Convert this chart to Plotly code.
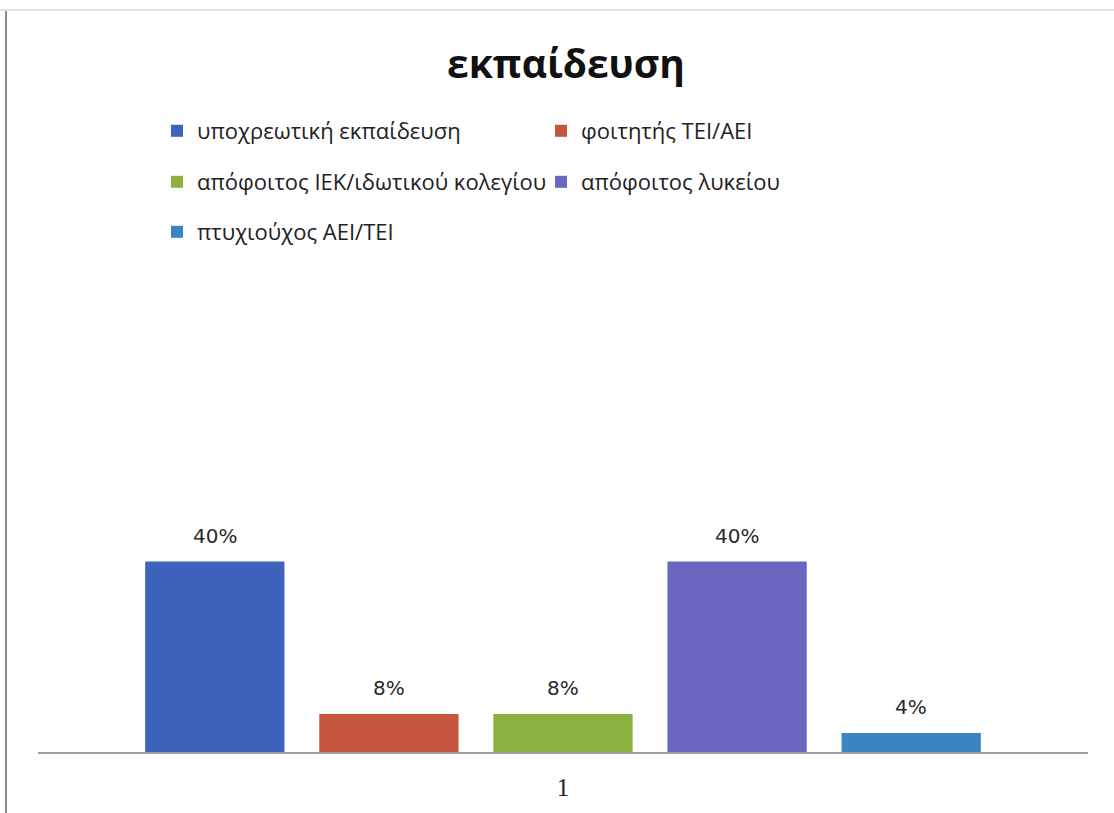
import plotly.graph_objects as go

# Education level shares (single survey group "1")
category = ["1"]
series_names = [
    "υποχρεωτική εκπαίδευση",
    "φοιτητής ΤΕΙ/ΑΕΙ",
    "απόφοιτος ΙΕΚ/ιδωτικού κολεγίου",
    "απόφοιτος λυκείου",
    "πτυχιούχος ΑΕΙ/ΤΕΙ",
]
series_values = [0.40, 0.08, 0.08, 0.40, 0.04]
series_colors = ["#3D63BC", "#C5553F", "#8DB13E", "#6B66BF", "#3A84C2"]
legend_rows = ["legend", "legend", "legend2", "legend2", "legend3"]

W, H = 1114, 813
L, R, T, B = 38, 26, 514, 61
plot_h = H - T - B
BARGAP, GROUPGAP = 0.171, 0.2

fig = go.Figure()
for name, val, col, lg in zip(series_names, series_values, series_colors, legend_rows):
    fig.add_trace(go.Bar(
        x=category, y=[val], name=name,
        marker=dict(color=col, line=dict(width=0)),
        legend=lg,
    ))

# value labels above each bar, centred on the bar's slot within the group
n = len(series_values)
slot = (1 - BARGAP) / n
annotations = []
for i, val in enumerate(series_values):
    annotations.append(dict(
        x=-(1 - BARGAP) / 2 + slot * (i + 0.5), y=val,
        xref="x", yref="y", text=f"{val:.0%}", showarrow=False,
        yanchor="middle", yshift=26,
        font=dict(family="DejaVu Sans", size=20, color="#2a2a2a"),
    ))


def row_y(px_top):
    return (H - B - px_top) / plot_h


legend_common = dict(
    orientation="h", x=(157 - L) / (W - L - R), xanchor="left", yanchor="top",
    font=dict(family="Open Sans", size=22, color="#222222"),
    bgcolor="rgba(0,0,0,0)", entrywidth=339, itemwidth=30,
    traceorder="normal",
)

fig.update_layout(
    width=W, height=H,
    margin=dict(l=L, r=R, t=T, b=B),
    paper_bgcolor="white", plot_bgcolor="white",
    title=dict(
        text="<b>εκπαίδευση</b>", x=0.508, xanchor="center",
        y=1 - 64 / H, yanchor="middle",
        font=dict(family="Open Sans", size=39, color="#111111"),
    ),
    barmode="group", bargap=BARGAP, bargroupgap=GROUPGAP,
    showlegend=True,
    legend=dict(legend_common, y=row_y(110)),
    legend2=dict(legend_common, y=row_y(161)),
    legend3=dict(legend_common, y=row_y(211)),
    annotations=annotations,
    xaxis=dict(
        type="category", range=[-0.5, 0.5],
        showline=True, linecolor="#9f9f9f", linewidth=2,
        ticks="", showgrid=False, ticklabelstandoff=12,
        tickfont=dict(family="Liberation Serif", size=25, color="#222222"),
    ),
    yaxis=dict(range=[0, 0.5], visible=False, showgrid=False),
    shapes=[
        dict(type="line", xref="paper", yref="paper",
             x0=(6 - L) / (W - L - R), x1=(6 - L) / (W - L - R),
             y0=row_y(9), y1=row_y(H), line=dict(color="#8a8a8a", width=2)),
        dict(type="line", xref="paper", yref="paper",
             x0=(0 - L) / (W - L - R), x1=(W - L) / (W - L - R),
             y0=row_y(10), y1=row_y(10), line=dict(color="#e2e2e2", width=2)),
    ],
)

fig.write_html("out.html")
